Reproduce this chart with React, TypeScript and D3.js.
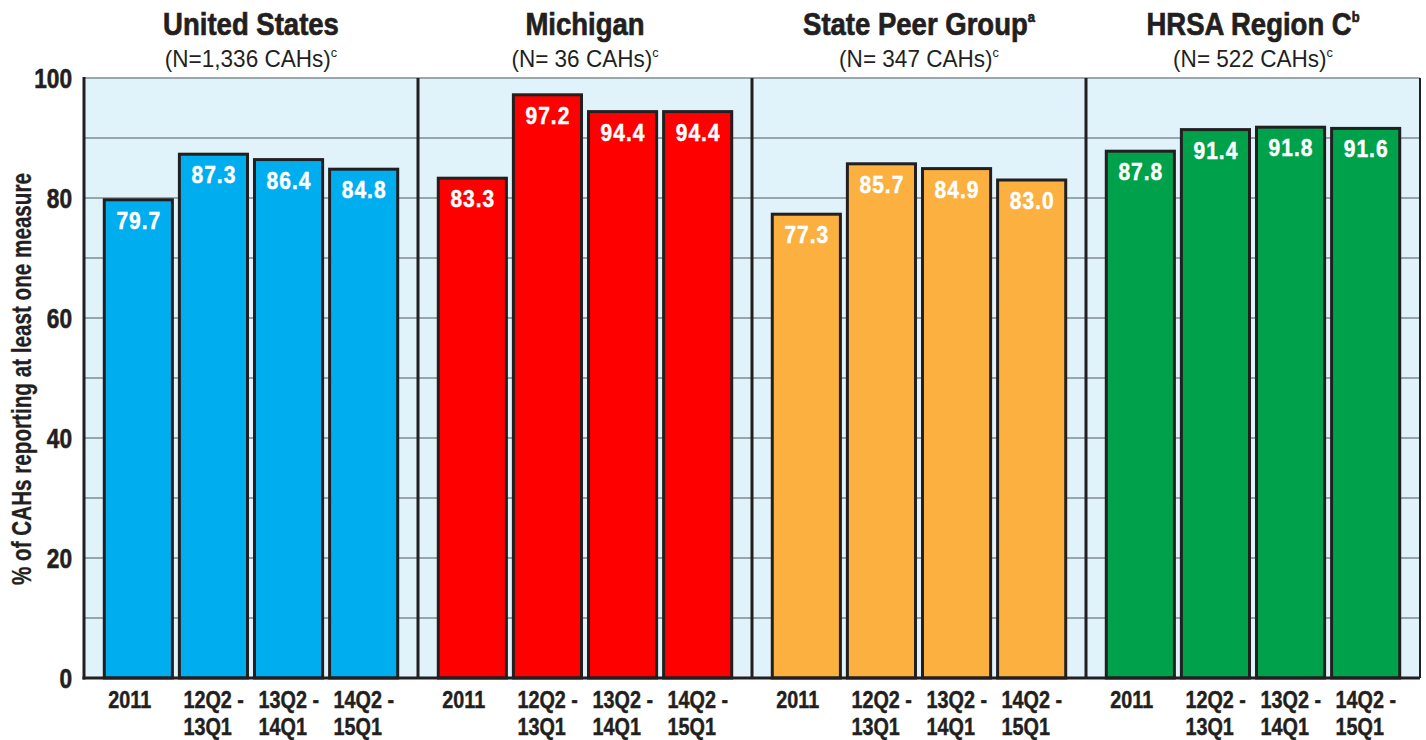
import React from "react";
import * as d3 from "d3";

const groups = ["United States", "Michigan", "State Peer Group", "HRSA Region C"];
const groupSup = ["", "", "a", "b"];
const groupN = ["(N=1,336 CAHs)", "(N= 36 CAHs)", "(N= 347 CAHs)", "(N= 522 CAHs)"];
const periods = ["2011", "12Q2 - 13Q1", "13Q2 - 14Q1", "14Q2 - 15Q1"];
const periodLines = [["2011"], ["12Q2 -", "13Q1"], ["13Q2 -", "14Q1"], ["14Q2 -", "15Q1"]];
const usValues = [79.7, 87.3, 86.4, 84.8];
const michiganValues = [83.3, 97.2, 94.4, 94.4];
const peerValues = [77.3, 85.7, 84.9, 83.0];
const regionValues = [87.8, 91.4, 91.8, 91.6];
const groupColors = ["#00AEEF", "#FF0000", "#FBB040", "#00A14B"];
const yTicks = [0, 20, 40, 60, 80, 100];
const gridValues = [10, 20, 30, 40, 50, 60, 70, 80, 90, 100];

const FONT = "'Liberation Sans', Arial, Helvetica, sans-serif";
const INK = "#231F20";

function CText(props: {
  x: number; y: number; sx?: number; sy?: number; size: number; bold?: boolean; anchor?: string; fill?: string; weight?: number; spacing?: number; children: React.ReactNode;
}) {
  const { x, y, sx = 1, sy = 1, size, bold, anchor = "start", fill = INK, weight = 0, spacing = 0, children } = props;
  return (
    <text
      transform={`translate(${x},${y}) scale(${sx},${sy})`}
      textAnchor={anchor}
      fontSize={size}
      fontWeight={bold ? "bold" : "normal"}
      fill={fill}
      stroke={weight > 0 ? fill : "none"}
      strokeWidth={weight}
      letterSpacing={spacing}
    >
      {children}
    </text>
  );
}

export default function App() {
  const W = 1426, H = 740;
  const left = 84, right = 1420, top = 78, bottom = 678;
  const allValues = [usValues, michiganValues, peerValues, regionValues];
  const y = d3.scaleLinear().domain([0, 100]).range([bottom, top]);
  const panel = d3.scaleBand<string>().domain(groups).range([left, right]).padding(0);
  const bx = d3.scaleBand<string>().domain(periods).range([0, panel.bandwidth()]).paddingInner(0.093).paddingOuter(0.27);

  return (
    <svg width={W} height={H} style={{ position: "absolute", left: 0, top: 0, fontFamily: FONT }}>
      <rect x={left} y={top} width={right - left} height={bottom - top} fill="#E1F3FA" />
      {gridValues.map((g) => (
        <line key={g} x1={left} x2={right} y1={y(g)} y2={y(g)} stroke="#7f8c90" strokeWidth={1.5} />
      ))}
      {groups.map((g, gi) => {
        const px = panel(g)!;
        const cx = px + panel.bandwidth() / 2;
        return (
          <g key={g}>
            {allValues[gi].map((v, i) => {
              const x0 = px + bx(periods[i])!;
              const bw = bx.bandwidth();
              return (
                <g key={i}>
                  <rect x={x0} y={y(v)} width={bw} height={bottom - y(v)} fill={groupColors[gi]} stroke={INK} strokeWidth={3} />
                  <CText x={x0 + bw / 2 + 0.5} y={y(v) + 29} size={21} sy={1.1} bold anchor="middle" fill="#fff" weight={0.4} spacing={1}>
                    {v.toFixed(1)}
                  </CText>
                  {periodLines[i].map((ln, li) => (
                    <CText key={li} x={x0 + 4} y={708 + li * 27} size={22} sx={0.9} sy={1.05} bold weight={0.4}>
                      {ln}
                    </CText>
                  ))}
                </g>
              );
            })}
            <CText x={cx} y={35} size={32} sx={0.86} bold anchor="middle" weight={0.7}>
              {g}
              {groupSup[gi] && <tspan fontSize={15} dy={-13}>{groupSup[gi]}</tspan>}
            </CText>
            <CText x={cx} y={67} size={23} sx={0.98} anchor="middle">
              {groupN[gi]}
              <tspan fontSize={13} dy={-10}>c</tspan>
            </CText>
            {gi > 0 && <line x1={px} x2={px} y1={top} y2={bottom} stroke={INK} strokeWidth={3} />}
          </g>
        );
      })}
      <line x1={right} x2={right} y1={top} y2={bottom} stroke={INK} strokeWidth={2} />
      <line x1={left} x2={left} y1={top - 1} y2={bottom + 1.5} stroke={INK} strokeWidth={3} />
      <line x1={left - 1.5} x2={right} y1={bottom} y2={bottom} stroke={INK} strokeWidth={3} />
      {yTicks.map((t) => (
        <CText key={t} x={72} y={y(t) + 10} size={27} sx={0.84} bold anchor="end" weight={0.6}>
          {t}
        </CText>
      ))}
      <text
        transform={`translate(31, 379) rotate(-90)`}
        textAnchor="middle"
        fontWeight="bold"
        fontSize={27}
        fill={INK}
        stroke={INK}
        strokeWidth={0.3}
        textLength={412}
        lengthAdjust="spacingAndGlyphs"
      >
        % of CAHs reporting at least one measure
      </text>
    </svg>
  );
}
